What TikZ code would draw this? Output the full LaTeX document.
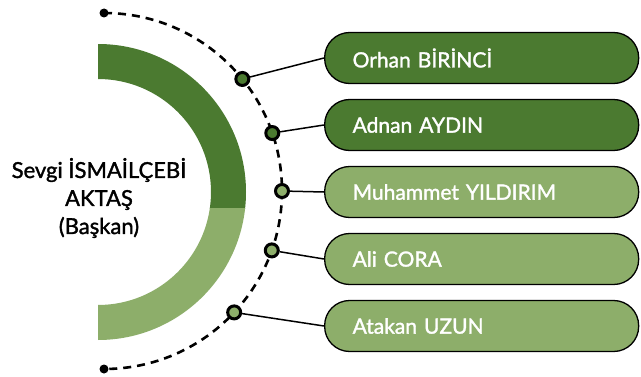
\documentclass[tikz,border=0pt]{standalone}
\usepackage{fontspec}
\setmainfont{Lato}
\newfontfamily\medfont{Lato}[FakeBold=1.5]
\usetikzlibrary{calc}
\definecolor{dgreen}{HTML}{4B7A30}
\definecolor{lgreen}{HTML}{8DAE6A}
\begin{document}
\begin{tikzpicture}[x=1pt,y=1pt,
  member/.style={draw=black, line width=1.3pt, rounded corners=25pt, minimum width=314pt, minimum height=51pt, text width=258pt, inner sep=0pt, align=left, text=white, font=\medfont\fontsize{21}{25}\selectfont},
  knot/.style={circle, draw=black, line width=3pt, minimum size=13pt, inner sep=0pt},
  link/.style={line width=1.5pt, black}]
\fill[white] (0,0) rectangle (641,376);
\useasboundingbox (0,0) rectangle (641,376);
% thick half-ring
\begin{scope}
  \clip (0,168) rectangle (300,376);
  \fill[dgreen] (98,332) arc (90:-90:148) -- (98,71) arc (-90:90:113) -- cycle;
\end{scope}
\begin{scope}
  \clip (0,0) rectangle (300,168);
  \fill[lgreen] (98,332) arc (90:-90:148) -- (98,71) arc (-90:90:113) -- cycle;
\end{scope}
% dashed arc
\coordinate (dc) at (104,185);
\draw[line width=2.6pt, dash pattern=on 8pt off 6pt] (104,363) arc (90:-90:178);
\fill[black] (104,363) circle (4.5);
\fill[black] (104,7) circle (4.5);
% center text
\node[align=center, font=\medfont\fontsize{22}{28}\selectfont, text=black] (boss) at (99,178) {Sevgi İSMAİLÇEBİ\\AKTAŞ\\(Başkan)};
% members
\node[member, fill=dgreen, anchor=west] (m1) at (324,318) {Orhan BİRİNCİ};
\node[member, fill=dgreen, anchor=west] (m2) at (324,251) {Adnan AYDIN};
\node[member, fill=lgreen, anchor=west] (m3) at (324,184) {Muhammet YILDIRIM};
\node[member, fill=lgreen, anchor=west] (m4) at (324,117) {Ali CORA};
\node[member, fill=lgreen, anchor=west] (m5) at (324,50) {Atakan UZUN};
% knots
\node[knot, fill=dgreen] (k1) at ($(dc)+(39:178)$) {};
\node[knot, fill=dgreen] (k2) at ($(dc)+(19:178)$) {};
\node[knot, fill=lgreen] (k3) at ($(dc)+(0:178)$) {};
\node[knot, fill=lgreen] (k4) at ($(dc)+(-19.5:178)$) {};
\node[knot, fill=lgreen] (k5) at ($(dc)+(-43:178)$) {};
% links
\foreach \i in {1,...,5} \draw[link] (k\i) -- (m\i.west);
\end{tikzpicture}
\end{document}
